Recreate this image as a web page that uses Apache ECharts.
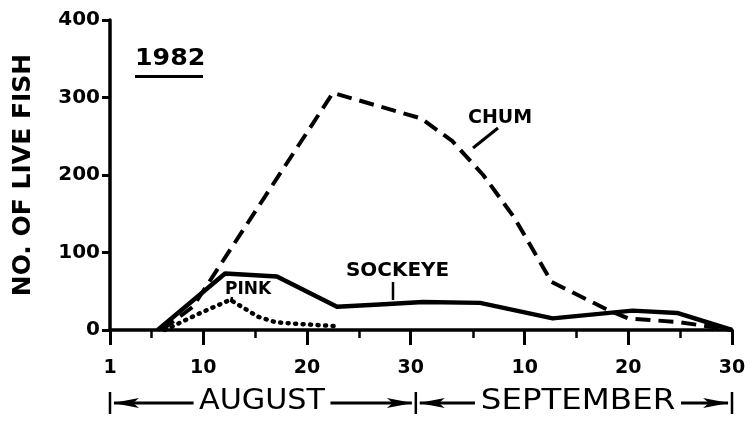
<!DOCTYPE html>
<html>
<head>
<meta charset="utf-8">
<script src="https://cdn.jsdelivr.net/npm/echarts@6/dist/echarts.min.js"></script>
<style>
  html, body { margin: 0; padding: 0; background: #fff; }
  #chart { width: 753px; height: 421px; }
</style>
</head>
<body>
<div id="chart"></div>
<script>
// Live salmon counts for the 1982 season.
// Days are counted from 1 August (1 Aug = 1, 31 Aug = 31, 30 Sep = 61).
const chumDays      = [6, 9, 22.5, 31, 34, 37, 40, 43.6, 49, 51, 56, 61];
const chumCounts    = [0, 30, 306, 273, 244, 200, 145, 62, 26, 15, 10, 0];

const sockeyeDays   = [5.6, 12.1, 17.1, 22.9, 27, 31.2, 36.7, 43.7, 51.4, 55.7, 61];
const sockeyeCounts = [0, 73, 69, 30, 33, 36, 35, 15, 25, 22, 0];

const pinkDays      = [6.3, 9.4, 12.6, 15.3, 17, 19, 22.7];
const pinkCounts    = [0, 20, 39, 17, 10, 8, 5];

// Axis ticks: day of season and the day-of-month shown under it
const xTickDays   = [1, 10, 20, 30, 41, 51, 61];
const xTickLabels = ['1', '10', '20', '30', '10', '20', '30'];
const xMinorDays  = [5, 15, 25, 36, 46, 56];

const FONT = 'DejaVu Sans';
const INK = '#000';

const toPoints = (xs, ys) => xs.map((x, i) => [x, ys[i]]);

const chart = echarts.init(document.getElementById('chart'), null, { renderer: 'canvas' });

const option = {
  animation: false,
  backgroundColor: '#fff',
  grid: { left: 110, right: 21, top: 20, bottom: 91, containLabel: false },
  xAxis: [
    {
      type: 'value', min: 1, max: 61, position: 'bottom',
      axisLine: { show: true, lineStyle: { color: INK, width: 3.5 } },
      axisTick: { show: true, customValues: xTickDays, length: 15, lineStyle: { color: INK, width: 3 } },
      axisLabel: {
        customValues: xTickDays,
        formatter: v => xTickLabels[xTickDays.indexOf(v)],
        margin: 29, fontFamily: FONT, fontSize: 19, fontWeight: 'bold', color: INK
      },
      splitLine: { show: false }
    },
    {
      // short intermediate ticks
      type: 'value', min: 1, max: 61, position: 'bottom',
      axisLine: { show: false },
      axisTick: { show: true, customValues: xMinorDays, length: 8, lineStyle: { color: INK, width: 2.5 } },
      axisLabel: { show: false },
      splitLine: { show: false }
    }
  ],
  yAxis: {
    type: 'value', min: 0, max: 400, interval: 100,
    axisLine: { show: true, lineStyle: { color: INK, width: 3.5 } },
    axisTick: { show: true, length: 8, lineStyle: { color: INK, width: 3 } },
    axisLabel: { margin: 10, fontFamily: FONT, fontSize: 20, fontWeight: 'bold', color: INK },
    splitLine: { show: false },
    name: 'NO. OF LIVE FISH',
    nameLocation: 'middle',
    nameRotate: 90,
    nameGap: 74,
    nameTextStyle: { fontFamily: FONT, fontSize: 25, fontWeight: 'bold', color: INK }
  },
  series: [
    {
      name: 'CHUM', type: 'line', xAxisIndex: 0, symbol: 'none',
      data: toPoints(chumDays, chumCounts),
      lineStyle: { color: INK, width: 4, type: [15, 8] }
    },
    {
      name: 'SOCKEYE', type: 'line', xAxisIndex: 0, symbol: 'none',
      data: toPoints(sockeyeDays, sockeyeCounts),
      lineStyle: { color: INK, width: 4.5, type: 'solid', join: 'round' }
    },
    {
      name: 'PINK', type: 'line', xAxisIndex: 0, symbol: 'none',
      data: toPoints(pinkDays, pinkCounts),
      lineStyle: { color: INK, width: 4.5, type: [1, 6.5], cap: 'round' }
    }
  ]
};

chart.setOption(option);

// Month bands under the axis, tied to the day scale
const px = d => chart.convertToPixel({ xAxisIndex: 0 }, d);
const xa = px(1), xb = px(30.5), xc = px(61);
const rowY = 403;

const seg = (x1, y1, x2, y2, w) => ({
  type: 'line', shape: { x1, y1, x2, y2 },
  style: { stroke: INK, lineWidth: w, lineCap: 'butt' }, z: 10
});
const head = (tipX, dir) => ({
  type: 'polygon',
  shape: { points: [[tipX, rowY], [tipX + dir * 26, rowY - 5], [tipX + dir * 20, rowY], [tipX + dir * 26, rowY + 5]] },
  style: { fill: INK }, z: 11
});
// text placed at (x, y), optionally stretched horizontally like stencil lettering
const label = (text, x, y, size, weight, align, stretch, extra) => ({
  type: 'text',
  x, y,
  scaleX: stretch || 1,
  style: Object.assign({
    text, x: 0, y: 0, fill: INK, font: `${weight} ${size}px "${FONT}"`,
    align, verticalAlign: 'middle'
  }, extra || {}),
  z: 20
});

const bandText = { backgroundColor: '#fff', padding: [0, 5] };

chart.setOption({
  graphic: [
    // month arrows
    seg(xa, 392, xa, 414, 2.5),
    seg(xb, 392, xb, 414, 2.5),
    seg(xc, 392, xc, 414, 2.5),
    seg(xa + 4, rowY, xb - 4, rowY, 3),
    seg(xb + 4, rowY, xc - 4, rowY, 3),
    head(xa + 3, 1), head(xb - 3, -1), head(xb + 3, 1), head(xc - 3, -1),
    label('AUGUST', 262, 402, 28, 'normal', 'center', 1.08, bandText),
    label('SEPTEMBER', 578, 402, 28, 'normal', 'center', 1.16, bandText),

    // year heading
    label('1982', 135, 59, 23, 'bold', 'left', 1.1),
    seg(135, 76.5, 203, 76.5, 3),

    // series labels with leaders
    label('CHUM', 468, 118, 19, 'bold', 'left'),
    seg(473, 148, 498, 128, 3),
    label('SOCKEYE', 346, 271, 19, 'bold', 'left', 1.05),
    seg(393, 282, 393, 300, 2.5),
    label('PINK', 225, 290, 17, 'bold', 'left'),
    seg(232, 297, 231, 302, 2.5)
  ]
});
</script>
</body>
</html>
